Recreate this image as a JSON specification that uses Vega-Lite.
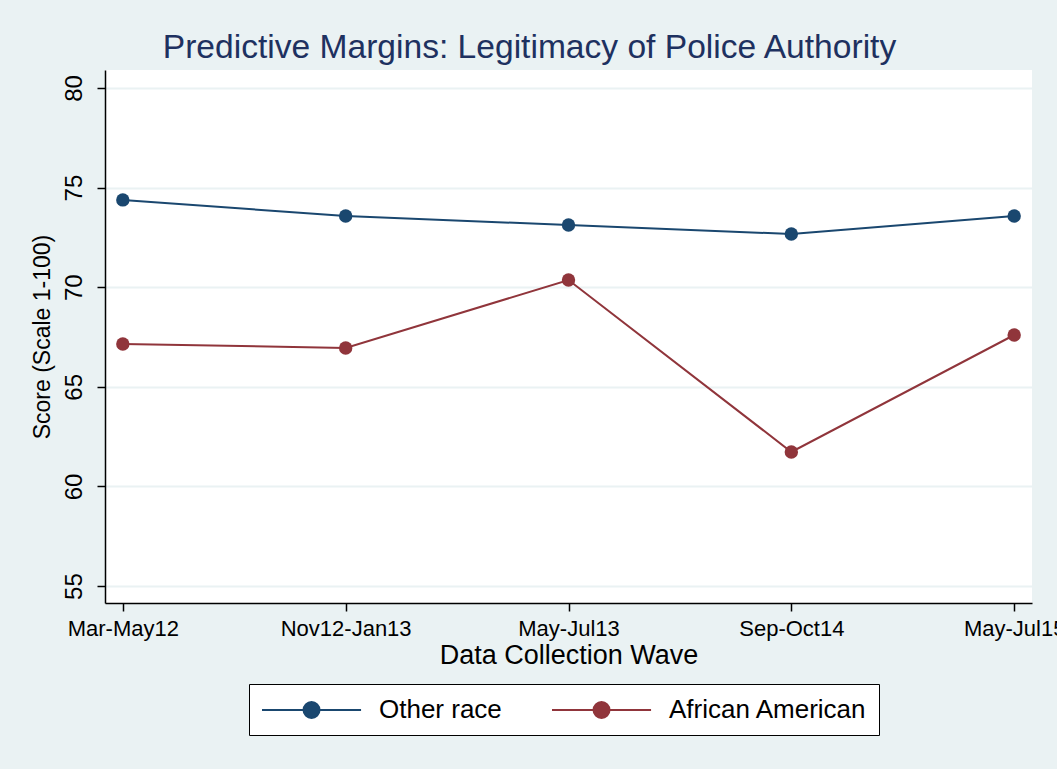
{
  "$schema": "https://vega.github.io/schema/vega-lite/v6.json",
  "width": 927,
  "height": 533,
  "autosize": {"type": "none"},
  "padding": {"left": 105, "top": 70, "right": 25, "bottom": 166},
  "background": "#EAF2F3",
  "config": {
    "view": {"fill": "white", "stroke": null},
    "font": "Liberation Sans",
    "axis": {
      "domainColor": "black",
      "domainWidth": 1.5,
      "tickColor": "black",
      "tickWidth": 1.5,
      "tickSize": 8,
      "labelColor": "black",
      "titleColor": "black",
      "titleFontWeight": "normal"
    }
  },
  "title": {
    "text": "Predictive Margins: Legitimacy of Police Authority",
    "fontSize": 33.6,
    "fontWeight": "normal",
    "color": "#1E3160",
    "anchor": "middle",
    "dx": -39,
    "offset": 5
  },
  "data": {
    "values": [
      {"wave": "Mar-May12", "group": "Other race", "score": 74.38},
      {"wave": "Nov12-Jan13", "group": "Other race", "score": 73.57},
      {"wave": "May-Jul13", "group": "Other race", "score": 73.12},
      {"wave": "Sep-Oct14", "group": "Other race", "score": 72.67},
      {"wave": "May-Jul15", "group": "Other race", "score": 73.57},
      {"wave": "Mar-May12", "group": "African American", "score": 67.15},
      {"wave": "Nov12-Jan13", "group": "African American", "score": 66.95},
      {"wave": "May-Jul13", "group": "African American", "score": 70.36},
      {"wave": "Sep-Oct14", "group": "African American", "score": 61.73},
      {"wave": "May-Jul15", "group": "African American", "score": 67.6}
    ]
  },
  "encoding": {
    "x": {
      "field": "wave",
      "type": "ordinal",
      "sort": ["Mar-May12", "Nov12-Jan13", "May-Jul13", "Sep-Oct14", "May-Jul15"],
      "scale": {"type": "point", "padding": 0.08},
      "axis": {
        "title": "Data Collection Wave",
        "titleFontSize": 27,
        "titlePadding": 3,
        "labelFontSize": 22,
        "labelAngle": 0,
        "labelPadding": 7,
        "grid": false
      }
    },
    "y": {
      "field": "score",
      "type": "quantitative",
      "scale": {"domain": [54.15, 80.9], "nice": false, "zero": false},
      "axis": {
        "title": "Score (Scale 1-100)",
        "titleFontSize": 23,
        "titlePadding": 8,
        "values": [55, 60, 65, 70, 75, 80],
        "labelFontSize": 24,
        "labelAngle": 270,
        "labelAlign": "center",
        "labelBaseline": "alphabetic",
        "labelPadding": 16,
        "grid": true,
        "gridColor": "#EAF2F3",
        "gridWidth": 2
      }
    },
    "color": {
      "field": "group",
      "type": "nominal",
      "scale": {"domain": ["Other race", "African American"], "range": ["#1A476F", "#90353B"]},
      "legend": {
        "title": null,
        "orient": "none",
        "legendX": 144,
        "legendY": 614,
        "direction": "horizontal",
        "columns": 2,
        "symbolType": "M-1,0H6.62M2.195,0A0.615,0.615 0 1,1 3.425,0A0.615,0.615 0 1,1 2.195,0Z",
        "symbolSize": 676,
        "symbolStrokeWidth": 2,
        "labelFontSize": 26,
        "labelColor": "black",
        "labelOffset": 90,
        "labelLimit": 400,
        "columnPadding": 46,
        "padding": 12,
        "strokeColor": "black",
        "fillColor": "white",
        "encode": {
          "symbols": {
            "update": {
              "fill": {"scale": "color", "field": "value"},
              "stroke": {"scale": "color", "field": "value"},
              "opacity": {"value": 1}
            }
          }
        }
      }
    }
  },
  "layer": [
    {"mark": {"type": "line", "strokeWidth": 2}},
    {"mark": {"type": "point", "filled": true, "size": 180, "opacity": 1}}
  ]
}
